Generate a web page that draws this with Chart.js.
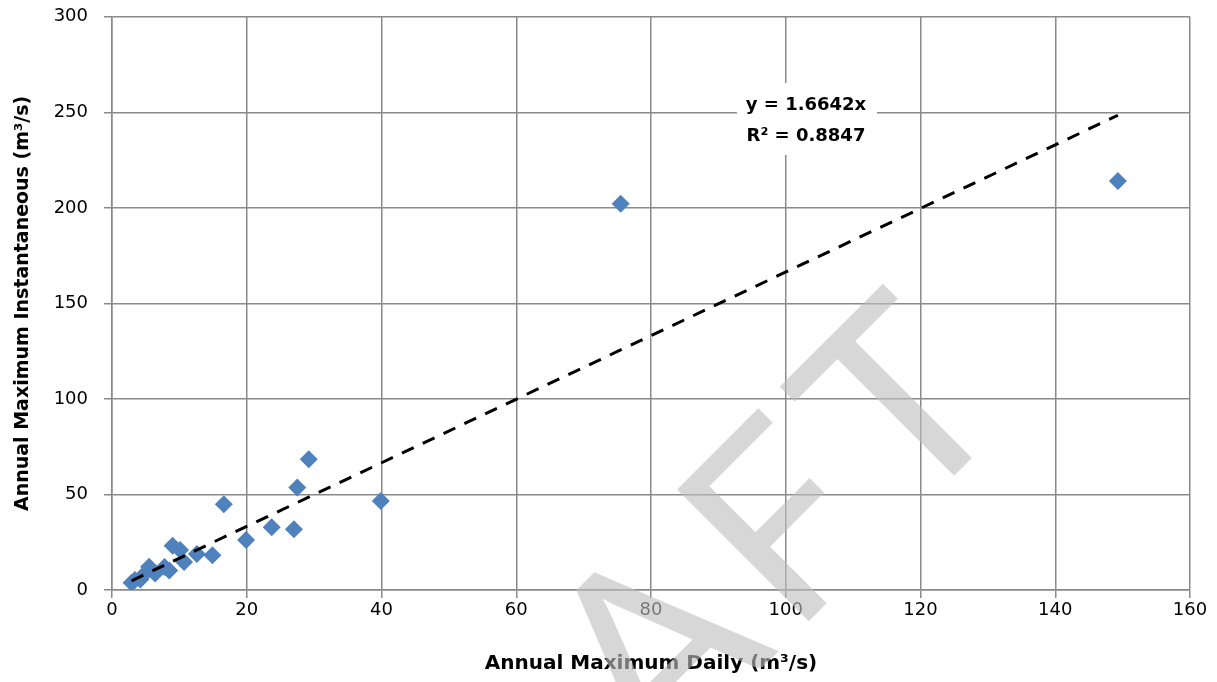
<!DOCTYPE html>
<html>
<head>
<meta charset="utf-8">
<script src="https://cdn.jsdelivr.net/npm/chart.js@4"></script>
<style>
  body { margin: 0; background: #fff; }
  #frame { width: 1217px; height: 682px; overflow: hidden; position: relative; }
  /* chart is 10px taller and pulled up, so the plot top lands at y=17 */
  #wrap { width: 1217px; height: 692px; position: absolute; left: 0; top: -10px; }
</style>
</head>
<body>
<div id="frame"><div id="wrap"><canvas id="chart"></canvas></div></div>
<script>
// annual maximum daily vs instantaneous flows (m3/s)
let dailyMax = [149.3, 75.5, 29.2, 27.5, 16.6, 39.9, 23.7, 27.0, 19.9, 14.9, 12.6,
                10.7, 9.0, 10.1, 5.5, 7.8, 8.5, 6.4, 4.6, 3.4, 2.9, 4.2];
let instMax  = [214.1, 202.1, 68.4, 53.6, 44.9, 46.6, 32.8, 31.8, 26.2, 18.2, 18.8,
                14.6, 23.2, 20.9, 12.2, 12.0, 10.2, 8.7, 7.6, 5.2, 3.8, 5.5];
let trendSlope = 1.6642;
let trendLabels = ['y = 1.6642x', 'R² = 0.8847'];
let xTicks = [0, 20, 40, 60, 80, 100, 120, 140, 160];
let yTicks = [0, 50, 100, 150, 200, 250, 300];
let xTitle = 'Annual Maximum Daily (m³/s)';
let yTitle = 'Annual Maximum Instantaneous (m³/s)';
let watermark = 'DRAFT';

let points = dailyMax.map((x, i) => ({ x: x, y: instMax[i] }));
let xLo = Math.min(...dailyMax);
let xHi = Math.max(...dailyMax);
let trend = [{ x: xLo, y: trendSlope * xLo }, { x: xHi, y: trendSlope * xHi }];

let gridColor = '#8a8a8a';
let font = '"DejaVu Sans", sans-serif';
let shift = 10; // canvas offset, see #wrap

// label box for the trend line equation
let equationBox = {
    id: 'equationBox',
    afterDatasetsDraw(chart) {
        let ctx = chart.ctx;
        ctx.save();
        ctx.fillStyle = '#fff';
        ctx.fillRect(737, 83 + shift, 140, 72);
        ctx.fillStyle = '#000';
        ctx.font = 'bold 18px ' + font;
        ctx.textAlign = 'center';
        ctx.textBaseline = 'middle';
        ctx.fillText(trendLabels[0], 806, 105 + shift);
        ctx.fillText(trendLabels[1], 806, 136 + shift);
        ctx.restore();
    }
};

// grey watermark laid over everything
let draftMark = {
    id: 'draftMark',
    afterDraw(chart) {
        let ctx = chart.ctx;
        ctx.save();
        ctx.translate(1030, 400 + shift);
        ctx.rotate(-45 * Math.PI / 180);
        ctx.fillStyle = 'rgba(190, 190, 190, 0.62)';
        ctx.font = '260px Lato, "Liberation Sans", sans-serif';
        ctx.letterSpacing = '18px';
        ctx.textAlign = 'right';
        ctx.textBaseline = 'alphabetic';
        ctx.fillText(watermark, 0, 0);
        ctx.restore();
    }
};

new Chart(document.getElementById('chart'), {
    type: 'scatter',
    data: {
        datasets: [
            {
                type: 'line',
                label: 'Trend',
                data: trend,
                borderColor: '#000',
                borderWidth: 3,
                borderDash: [13, 10],
                pointRadius: 0,
                fill: false
            },
            {
                label: 'Flows',
                data: points,
                pointStyle: 'rectRot',
                pointRadius: 9,
                pointHoverRadius: 9,
                backgroundColor: '#4f81bd',
                borderWidth: 0
            }
        ]
    },
    options: {
        responsive: true,
        maintainAspectRatio: false,
        animation: false,
        layout: { autoPadding: false, padding: { top: 10, right: 27, left: 12, bottom: 6 } },
        plugins: {
            legend: { display: false },
            tooltip: { enabled: false }
        },
        scales: {
            x: {
                type: 'linear',
                min: 0,
                max: 160,
                afterBuildTicks: (s) => { s.ticks = xTicks.map(v => ({ value: v })); },
                afterFit: (s) => { s.height = 692 - 600 - 6; },
                grid: { color: gridColor, lineWidth: 1.5, tickLength: 8 },
                border: { color: gridColor, width: 1.5 },
                ticks: { color: '#000', font: { family: font, size: 18 }, padding: 2 },
                title: {
                    display: true,
                    text: xTitle,
                    color: '#000',
                    font: { family: font, size: 20, weight: 'bold' },
                    padding: { top: 6, bottom: 0 }
                }
            },
            y: {
                min: 0,
                max: 300,
                afterBuildTicks: (s) => { s.ticks = yTicks.map(v => ({ value: v })); },
                afterFit: (s) => { s.width = 112 - 12; },
                grid: { color: gridColor, lineWidth: 1.5, tickLength: 8 },
                border: { color: gridColor, width: 1.5 },
                ticks: { color: '#000', font: { family: font, size: 18 }, padding: 16 },
                title: {
                    display: true,
                    text: yTitle,
                    color: '#000',
                    font: { family: font, size: 19, weight: 'bold' },
                    padding: { top: 0, bottom: 0 }
                }
            }
        }
    },
    plugins: [equationBox, draftMark]
});
</script>
</body>
</html>
